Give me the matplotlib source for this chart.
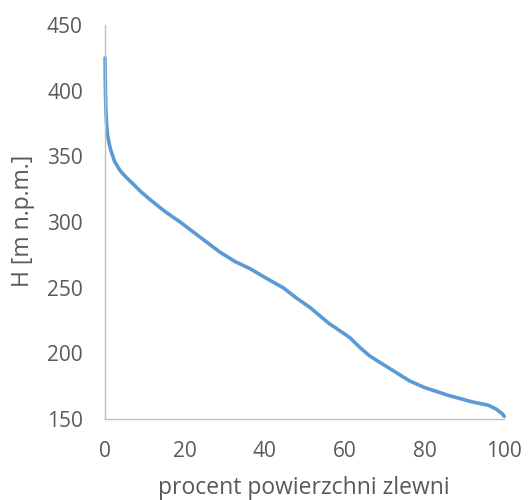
import matplotlib
matplotlib.use("Agg")
import matplotlib.pyplot as plt

# Hypsometric curve data (percent of catchment area vs elevation)
percent = [0, 0.05, 0.1, 0.2, 0.35, 0.6, 1.0, 1.5, 2.4, 3.8, 5.3, 7, 9, 11.3, 15, 18.8,
           24, 28.8, 32.5, 36.3, 40.5, 44.6, 48, 51.3, 56, 61.3, 64, 66.3, 71, 76.3,
           80, 86, 92, 96, 98, 99.5, 100]
height = [425, 410, 398, 386, 376, 367, 360, 354, 346, 339, 334, 329, 323, 317, 308, 300,
          288, 277, 270, 264.5, 257, 250, 242, 235, 223, 212, 204, 198, 189, 179,
          174, 168, 163, 160.5, 157.5, 154, 152]

xticks = [0, 20, 40, 60, 80, 100]
yticks = [150, 200, 250, 300, 350, 400, 450]

plt.rcParams['font.family'] = ['Open Sans', 'DejaVu Sans']
fig = plt.figure(figsize=(5.28, 5.0), dpi=100)
ax = fig.add_axes([0.199, 0.162, 0.756, 0.788])
ax.plot(percent, height, color='#5B9BD5', lw=2.6, solid_capstyle='round',
        solid_joinstyle='round', clip_on=False)
ax.set_xlim(0, 100)
ax.set_ylim(150, 450)
ax.set_xticks(xticks)
ax.set_yticks(yticks)
for s in ['top', 'right']:
    ax.spines[s].set_visible(False)
for s in ['left', 'bottom']:
    ax.spines[s].set_color('#BFBFBF')
    ax.spines[s].set_linewidth(1.0)
ax.tick_params(length=0, labelsize=15, labelcolor='#595959')
ax.tick_params(axis='x', pad=16)
ax.tick_params(axis='y', pad=16)
fig.text(303.5 / 528, 1 - 488 / 500, 'procent powierzchni zlewni', fontsize=16.5,
         color='#595959', ha='center', va='center')
fig.text(23 / 528, 1 - 221 / 500, 'H [m n.p.m.]', fontsize=16.5, color='#595959',
         ha='center', va='center', rotation=90)
fig.savefig('out.png', dpi=100)
